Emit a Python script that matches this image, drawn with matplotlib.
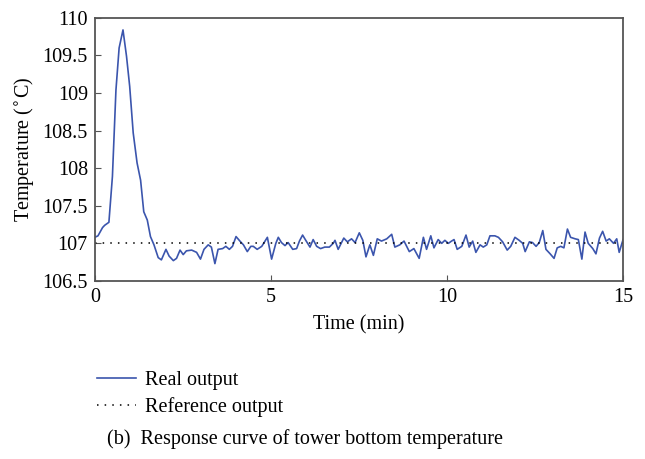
import matplotlib.pyplot as plt
from matplotlib.lines import Line2D

plt.rcParams['font.family'] = ['Liberation Serif', 'DejaVu Serif']

# Real output (time in min, temperature in degC)
time = [0.0, 0.09, 0.22, 0.28, 0.40, 0.50, 0.60, 0.69, 0.80, 0.90, 0.99, 1.09, 1.20,
        1.30, 1.39, 1.49, 1.58, 1.68, 1.80, 1.89, 2.02, 2.11, 2.23, 2.32, 2.42, 2.51,
        2.60, 2.75, 2.89, 3.00, 3.10, 3.22, 3.31, 3.41, 3.50, 3.63, 3.72, 3.82, 3.91,
        4.01, 4.12, 4.22, 4.33, 4.43, 4.50, 4.61, 4.74, 4.90, 5.02, 5.14, 5.21, 5.30,
        5.40, 5.49, 5.62, 5.73, 5.81, 5.90, 5.99, 6.11, 6.20, 6.30, 6.41, 6.53, 6.66,
        6.77, 6.82, 6.91, 7.07, 7.17, 7.29, 7.39, 7.51, 7.61, 7.70, 7.81, 7.91, 8.02,
        8.14, 8.29, 8.43, 8.52, 8.66, 8.78, 8.93, 9.06, 9.21, 9.33, 9.42, 9.54, 9.63,
        9.75, 9.85, 9.94, 10.04, 10.13, 10.20, 10.29, 10.42, 10.54, 10.63, 10.73, 10.82,
        10.94, 11.03, 11.13, 11.22, 11.36, 11.46, 11.58, 11.71, 11.81, 11.93, 12.05,
        12.15, 12.22, 12.34, 12.43, 12.53, 12.62, 12.72, 12.81, 12.93, 13.04, 13.13,
        13.23, 13.32, 13.42, 13.51, 13.64, 13.73, 13.83, 13.92, 14.01, 14.14, 14.23,
        14.33, 14.42, 14.52, 14.61, 14.73, 14.82, 14.89, 15.0]
real = [107.08, 107.10, 107.21, 107.24, 107.28, 107.89, 109.04, 109.60, 109.84, 109.49,
        109.09, 108.47, 108.07, 107.84, 107.42, 107.31, 107.09, 106.98, 106.81, 106.78,
        106.92, 106.83, 106.77, 106.80, 106.91, 106.85, 106.90, 106.91, 106.88, 106.79,
        106.92, 106.98, 106.95, 106.73, 106.92, 106.93, 106.96, 106.92, 106.96, 107.09,
        107.03, 106.98, 106.89, 106.96, 106.96, 106.92, 106.96, 107.08, 106.79, 107.00,
        107.08, 107.01, 106.97, 107.01, 106.92, 106.93, 107.03, 107.11, 107.04, 106.95,
        107.05, 106.96, 106.93, 106.95, 106.95, 107.00, 107.04, 106.92, 107.07, 107.02,
        107.06, 107.01, 107.14, 107.04, 106.82, 106.98, 106.84, 107.06, 107.03, 107.06,
        107.12, 106.95, 106.98, 107.03, 106.89, 106.93, 106.80, 107.08, 106.92, 107.10,
        106.94, 107.05, 107.00, 107.04, 107.00, 107.03, 107.05, 106.92, 106.96, 107.11,
        106.95, 107.03, 106.88, 106.98, 106.95, 106.98, 107.10, 107.10, 107.08, 107.02,
        106.91, 106.96, 107.08, 107.04, 107.00, 106.89, 107.02, 107.01, 106.96, 107.01,
        107.17, 106.92, 106.86, 106.80, 106.94, 106.96, 106.94, 107.19, 107.08, 107.06,
        107.05, 106.79, 107.15, 107.00, 106.93, 106.86, 107.07, 107.16, 107.03, 107.06,
        107.00, 107.06, 106.88, 107.05]

ref_time = [0, 15]
ref_value = [107, 107]

fig = plt.figure(figsize=(6.45, 4.59), dpi=100)
ax = fig.add_axes([0.147, 0.388, 0.819, 0.573])

ax.plot(time, real, color='#3b55ad', linewidth=1.2)
ax.plot(ref_time, ref_value, color='black', linestyle=(0, (1, 4)), linewidth=1.1)

ax.set_xlim(0, 15)
ax.set_ylim(106.5, 110)
ax.set_xticks([0, 5, 10, 15])
ax.set_yticks([106.5, 107, 107.5, 108, 108.5, 109, 109.5, 110])
ax.set_yticklabels(['106.5', '107', '107.5', '108', '108.5', '109', '109.5', '110'])
ax.tick_params(direction='in', labelsize=14.5, length=4, color='#555555', pad=5)
for s in ax.spines.values():
    s.set_color('#555555')
    s.set_linewidth(1.3)

ax.set_xlabel('Time (min)', fontsize=14.5, labelpad=6)
ax.set_ylabel('Temperature ($^{\\circ}$C)', fontsize=14.5, labelpad=5)

handles = [Line2D([], [], color='#3b55ad', linewidth=1.2),
           Line2D([], [], color='black', linestyle=(0, (1, 4)), linewidth=1.1)]
fig.legend(handles, ['Real output', 'Reference output'], loc='upper left',
           bbox_to_anchor=(0.122, 0.232), frameon=False, fontsize=14.5,
           handlelength=1.95, handletextpad=0.45, labelspacing=0.35)

fig.text(0.166, 0.043, '(b)  Response curve of tower bottom temperature',
         fontsize=14.5, va='center', ha='left')

plt.savefig('out.png', dpi=100)
